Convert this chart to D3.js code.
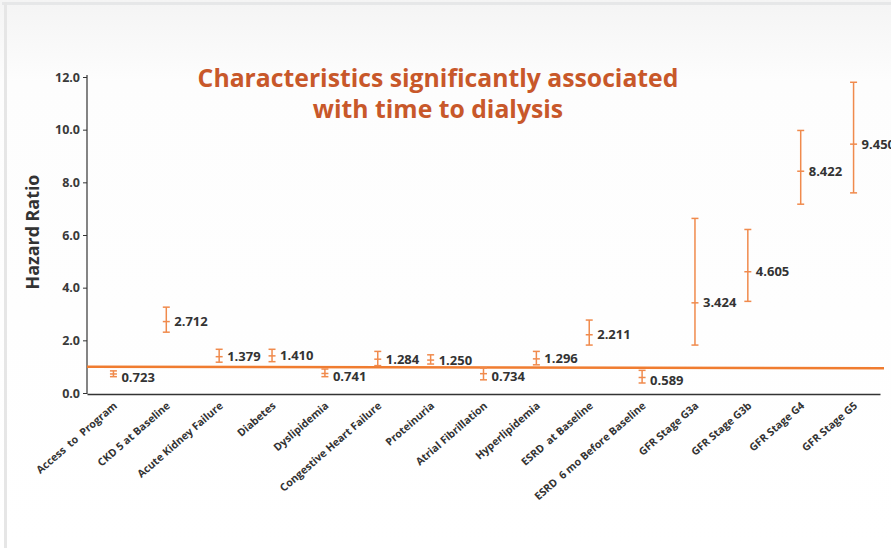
<!DOCTYPE html>
<html><head><meta charset="utf-8">
<script src="https://cdn.jsdelivr.net/npm/d3@7"></script>
<style>
html,body{margin:0;padding:0;background:#fff;}
svg{display:block;font-family:"Open Sans",sans-serif;}
</style></head>
<body><svg id="c" width="891" height="548"></svg>
<script>
const categories = ["Access  to  Program","CKD 5 at Baseline","Acute Kidney Failure","Diabetes","Dyslipidemia","Congestive Heart Failure","Proteinuria","Atrial Fibrillation","Hyperlipidemia","ESRD  at Baseline","ESRD  6 mo Before Baseline","GFR Stage G3a","GFR Stage G3b","GFR Stage G4","GFR Stage G5"];
const hazard = [0.723,2.712,1.379,1.410,0.741,1.284,1.250,0.734,1.296,2.211,0.589,3.424,4.605,8.422,9.450];
const lower  = [0.62,2.31,1.17,1.19,0.62,1.04,1.10,0.50,1.07,1.82,0.38,1.82,3.48,7.17,7.60];
const upper  = [0.84,3.26,1.66,1.66,0.91,1.58,1.45,0.95,1.58,2.77,0.86,6.63,6.21,9.97,11.80];
const yTicks = [0,2,4,6,8,10,12];
const refValue = 1;
const titleLines = ["Characteristics significantly associated","with time to dialysis"];
const yTitle = "Hazard Ratio";

const svg = d3.select("#c");
const defs = svg.append("defs");
const g0 = defs.append("linearGradient").attr("id","bg").attr("x1",0).attr("y1",0).attr("x2",0).attr("y2",1);
g0.append("stop").attr("offset","0").attr("stop-color","#f4f4f4");
g0.append("stop").attr("offset","0.15").attr("stop-color","#fdfdfd");
g0.append("stop").attr("offset","1").attr("stop-color","#ffffff");
svg.append("rect").attr("width",891).attr("height",548).attr("fill","url(#bg)");
svg.append("rect").attr("x",2).attr("y",2).attr("width",889).attr("height",3).attr("fill","#e6e7e8");
svg.append("rect").attr("x",4).attr("y",2).attr("width",3).attr("height",546).attr("fill","#e6e6e6");

const x = d3.scaleBand().domain(categories).range([87,880]);
const y = d3.scaleLinear().domain([0,12]).range([393,77]);

// y axis
const ya = svg.append("g").attr("transform","translate(87,0)")
  .call(d3.axisLeft(y).tickValues(yTicks).tickFormat(d3.format(".1f")).tickSize(4).tickSizeOuter(0));
ya.select(".domain").attr("stroke","#333").attr("stroke-width",1.2).attr("d","M0,75V394");
ya.selectAll(".tick line").attr("stroke","#333");
ya.selectAll(".tick text").attr("x",-7).attr("fill","#3a3a3a").attr("font-size","12.5px").attr("font-weight","bold").attr("font-family","Open Sans");

// x axis
const xa = svg.append("g").attr("transform","translate(0,394)")
  .call(d3.axisBottom(x).tickSize(0).tickSizeOuter(0));
xa.select(".domain").attr("stroke","#333").attr("stroke-width",1.5);
xa.selectAll(".tick text")
  .attr("fill","#333").attr("font-size","10.6px").attr("font-weight","bold").attr("font-family","Open Sans")
  .style("white-space","pre")
  .attr("text-anchor","end").attr("x",0).attr("y",0).attr("dy","0.35em")
  .attr("transform","translate(2,10) rotate(-41)");

// reference line
svg.append("line").attr("x1",87).attr("x2",884).attr("y1",y(refValue)).attr("y2",y(refValue)+1.5)
  .attr("stroke","#f07c30").attr("stroke-width",2.5);

// error bars
const col = "#f08a4c";
const eb = svg.append("g").selectAll("g").data(categories).join("g")
  .attr("transform",d=>`translate(${x(d)+x.bandwidth()/2},0)`);
eb.append("line").attr("y1",(d,i)=>y(lower[i])).attr("y2",(d,i)=>y(upper[i])).attr("stroke",col).attr("stroke-width",1.5);
eb.append("line").attr("x1",-3.5).attr("x2",3.5).attr("y1",(d,i)=>y(lower[i])).attr("y2",(d,i)=>y(lower[i])).attr("stroke",col).attr("stroke-width",1.5);
eb.append("line").attr("x1",-3.5).attr("x2",3.5).attr("y1",(d,i)=>y(upper[i])).attr("y2",(d,i)=>y(upper[i])).attr("stroke",col).attr("stroke-width",1.5);
eb.append("line").attr("x1",-3.5).attr("x2",3.5).attr("y1",(d,i)=>y(hazard[i])).attr("y2",(d,i)=>y(hazard[i])).attr("stroke",col).attr("stroke-width",1.5);
eb.append("text").attr("x",8).attr("y",(d,i)=>y(hazard[i])+(hazard[i]<refValue?3:0)).attr("dy","0.35em")
  .attr("fill","#333").attr("font-size","13px").attr("font-weight","bold")
  .text((d,i)=>d3.format(".3f")(hazard[i]));

// title
const t = svg.append("text").attr("text-anchor","middle").attr("fill","#c8582a").attr("font-weight","bold").attr("font-size","23px");
t.append("tspan").attr("x",438).attr("y",87).text(titleLines[0]);
t.append("tspan").attr("x",438).attr("y",118).text(titleLines[1]);
const w = t.select("tspan").node().getComputedTextLength();
t.attr("font-size",(23*481/w).toFixed(2)+"px");

// y title
const yt = svg.append("text").attr("transform","translate(39,232) rotate(-90)").attr("text-anchor","middle")
  .attr("fill","#333").attr("font-weight","bold").attr("font-size","17px").text(yTitle);
const wy = yt.node().getComputedTextLength();
yt.attr("font-size",(17*115/wy).toFixed(2)+"px");
</script></body></html>
